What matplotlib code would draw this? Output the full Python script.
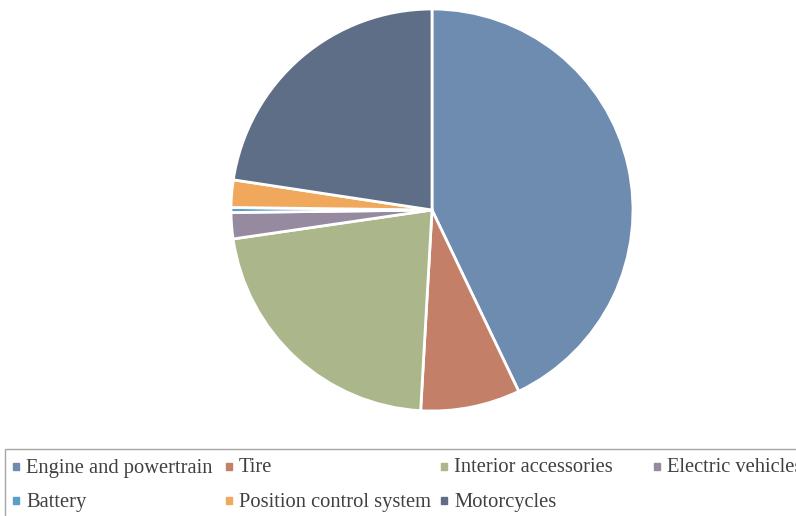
import matplotlib.pyplot as plt
from matplotlib.patches import Rectangle

labels = ['Engine and powertrain', 'Tire', 'Interior accessories', 'Electric vehicles',
          'Battery', 'Position control system', 'Motorcycles']
shares = [42.9, 8.0, 21.8, 2.1, 0.4, 2.2, 22.6]
colors = ['#6e8bb0', '#c47f68', '#abb78a', '#968aa0', '#5b9ec9', '#f0a85c', '#5f6e87']

W, H = 796, 516
fig = plt.figure(figsize=(W / 100, H / 100), dpi=100)

# pie centre (432, 210) px, radius ~201 px
r = 201
ax = fig.add_axes([(432 - r) / W, (H - 210 - r) / H, 2 * r / W, 2 * r / H])
ax.pie(shares, colors=colors, startangle=90, counterclock=False,
       wedgeprops=dict(edgecolor='white', linewidth=2, clip_on=False))
ax.set_xlim(-1, 1)
ax.set_ylim(-1, 1)
ax.set_aspect('equal')
ax.axis('off')

# legend drawn by hand, fixed column grid like the original
# (last label runs off the right edge in the original too)
fig.patches.append(Rectangle((5 / W, -10 / H), (W + 20) / W, (H - 449 + 10) / H,
                             transform=fig.transFigure, fill=False,
                             edgecolor='#a6a6a6', linewidth=1))
col_x = [13, 226, 441, 654]
row_y = [467, 501]
for i, (lab, c) in enumerate(zip(labels, colors)):
    x = col_x[i % 4]
    y = row_y[i // 4]
    fig.patches.append(Rectangle((x / W, (H - y - 3) / H), 6 / W, 7 / H,
                                 transform=fig.transFigure, color=c))
    fig.text((x + 13) / W, (H - y - 1) / H, lab, fontsize=14.8, family='Liberation Serif',
             color='#404040', va='center', ha='left')

fig.savefig('out.png', dpi=100)
